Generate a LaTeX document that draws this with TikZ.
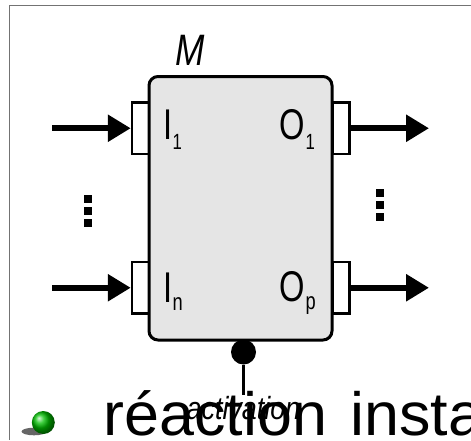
\documentclass[tikz,border=0pt]{standalone}
\usepackage{fontspec}
\setmainfont{Liberation Sans}
\usetikzlibrary{arrows.meta}
\begin{document}
\begin{tikzpicture}[x=1pt,y=-1pt,
  port/.style={draw=black, fill=white, line width=2.5pt, minimum width=17pt, minimum height=51.5pt, inner sep=0pt},
  mainbox/.style={draw=black, fill=black!10, line width=3pt, rounded corners=9pt, minimum width=183pt, minimum height=263.5pt, inner sep=0pt},
  flow/.style={line width=6pt, -{Triangle[length=23pt,width=26pt]}},
  dotsq/.style={fill=black, minimum size=8pt, inner sep=0pt, outer sep=0pt},
  lbl/.style={anchor=base west, inner sep=0pt, outer sep=0pt},
  frame/.style={line width=1.2pt, draw=black!55}
]
\useasboundingbox (0,0) rectangle (471,440);
\clip (0,0) rectangle (471,440);
\fill[white] (0,0) rectangle (471,440);
% frame
\draw[frame] (9.5,440) -- (9.5,5.5) -- (471,5.5);

% ports
\node[port] (pi1) at (140.5,128.25) {};
\node[port] (pin) at (140.5,287.75) {};
\node[port] (po1) at (341,128.25) {};
\node[port] (pop) at (341,287.75) {};

% main box
\node[mainbox] (M) at (240.5,208.25) {};

% labels
\node[lbl] (li1) at (163.5,139) {\fontsize{43}{50}\selectfont\scalebox{0.76}[1]{I\raisebox{-10pt}{\fontsize{22}{24}\selectfont 1}}};
\node[lbl] (lo1) at (279.5,139) {\fontsize{43}{50}\selectfont\scalebox{0.76}[1]{O\kern1pt\raisebox{-10pt}{\fontsize{22}{24}\selectfont 1}}};
\node[lbl] (lin) at (163.5,302) {\fontsize{43}{50}\selectfont\scalebox{0.76}[1]{I\raisebox{-8pt}{\fontsize{24}{26}\selectfont n}}};
\node[lbl] (lop) at (279.5,301) {\fontsize{43}{50}\selectfont\scalebox{0.76}[1]{O\kern1pt\raisebox{-8pt}{\fontsize{24}{26}\selectfont p}}};
\node[anchor=base, inner sep=0pt] (mname) at (190.5,65) {\fontsize{44}{50}\selectfont\itshape\scalebox{0.8}[1]{M}};

% arrows
\coordinate (a1) at (52,128.25);
\coordinate (an) at (52,287.75);
\coordinate (b1) at (429,128.25);
\coordinate (bp) at (429,287.75);
\draw[flow] (a1) -- (pi1.west);
\draw[flow] (an) -- (pin.west);
\draw[flow] (po1.east) -- (b1);
\draw[flow] (pop.east) -- (bp);

% dots
\node[dotsq] (dl1) at (88,199) {};
\node[dotsq] (dl2) at (88,210.5) {};
\node[dotsq] (dl3) at (88,223) {};
\node[dotsq] (dr1) at (380,193) {};
\node[dotsq] (dr2) at (380,204.7) {};
\node[dotsq] (dr3) at (380,216.7) {};

% activation
\node[circle, fill=black, minimum size=25pt, inner sep=0pt] (act) at (243.5,352) {};
\coordinate (actend) at (243.5,395);
\draw[line width=3pt] (act) -- (actend);

% bullet
\fill[black!60] (34,431.5) ellipse [x radius=12.5, y radius=3.8];
\shade[ball color=green!75!black] (43.3,422.5) circle [radius=11.5];

% big text
\node[lbl] (big) at (103.5,435) {\fontsize{61}{70}\selectfont\scalebox{1.03}[1]{\spaceskip=23pt réaction insta}};
\node[anchor=base, inner sep=0pt] (acttxt) at (243.5,419) {\fontsize{32}{36}\selectfont\itshape\scalebox{0.84}[1]{activation}};
\end{tikzpicture}
\end{document}
